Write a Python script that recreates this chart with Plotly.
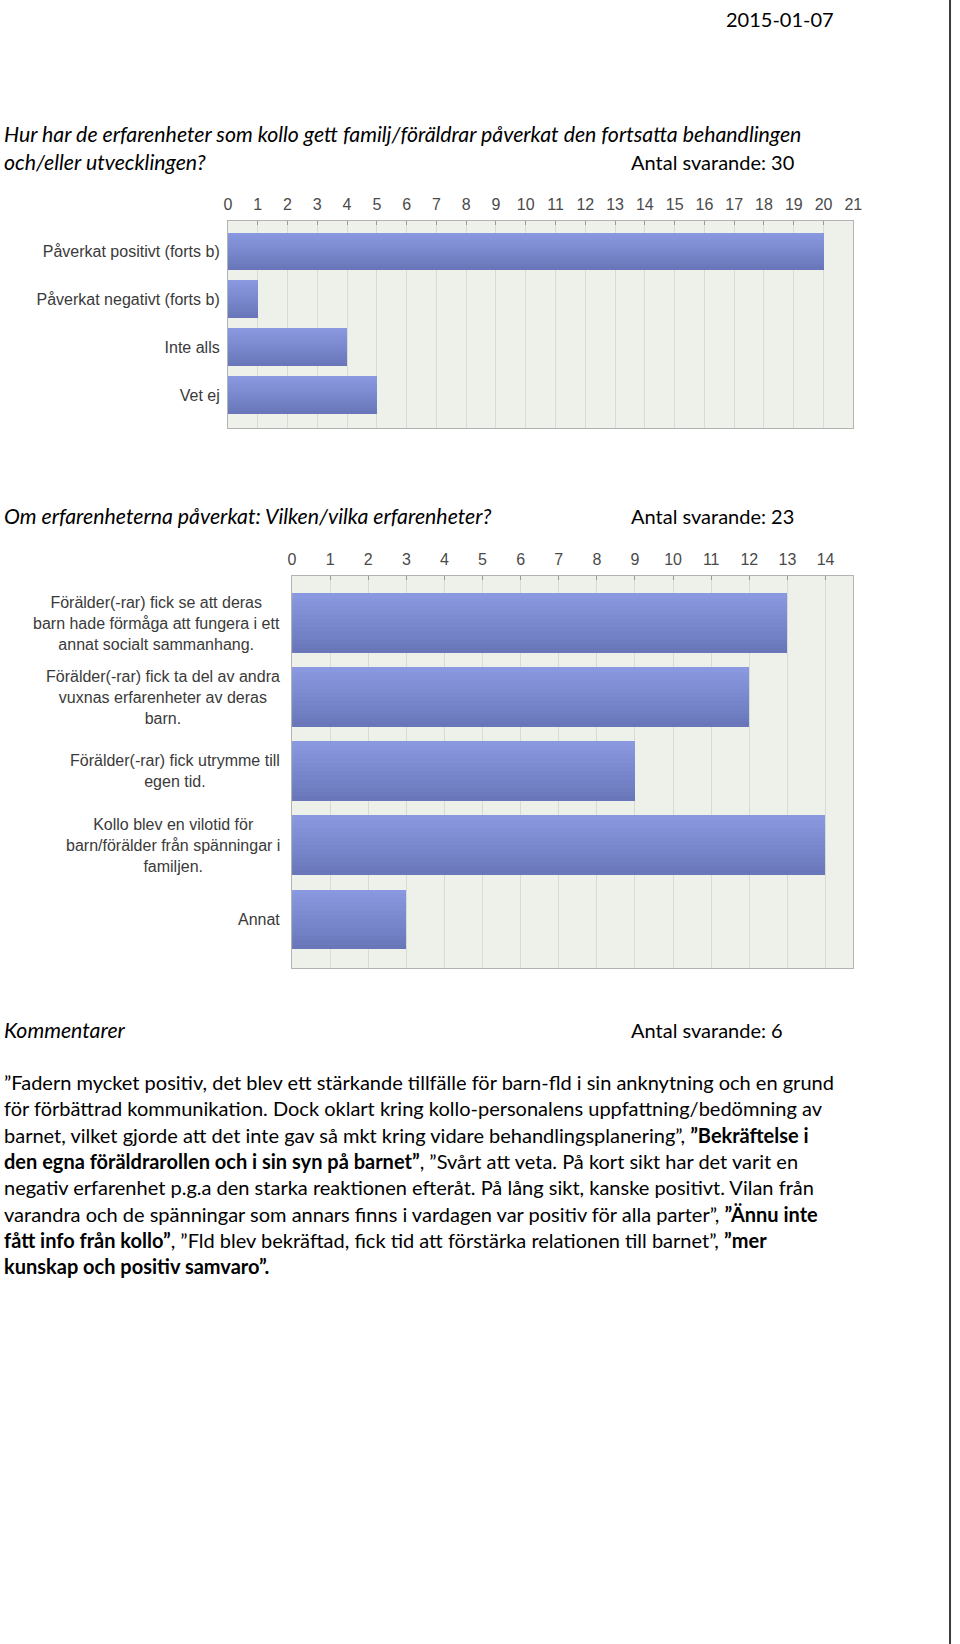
import plotly.graph_objects as go

W, H = 960, 1644

# ---------------- data ----------------
date_text = "2015-01-07"

q1_lines = [
    "Hur har de erfarenheter som kollo gett familj/föräldrar påverkat den fortsatta behandlingen",
    "och/eller utvecklingen?",
]
q1_count = "Antal svarande: 30"
cat1 = [
    "Påverkat positivt (forts b)",
    "Påverkat negativt (forts b)",
    "Inte alls",
    "Vet ej",
]
val1 = [20, 1, 4, 5]
ticks1 = list(range(0, 22))

q2_title = "Om erfarenheterna påverkat: Vilken/vilka erfarenheter?"
q2_count = "Antal svarande: 23"
cat2 = [
    "Förälder(-rar) fick se att deras<br>barn hade förmåga att fungera i ett<br>annat socialt sammanhang.",
    "Förälder(-rar) fick ta del av andra<br>vuxnas erfarenheter av deras<br>barn.",
    "Förälder(-rar) fick utrymme till<br>egen tid.",
    "Kollo blev en vilotid för<br>barn/förälder från spänningar i<br>familjen.",
    "Annat",
]
val2 = [13, 12, 9, 14, 3]
ticks2 = list(range(0, 15))

comments_title = "Kommentarer"
comments_count = "Antal svarande: 6"
comment_lines = [
    "”Fadern mycket positiv, det blev ett stärkande tillfälle för barn-fld i sin anknytning och en grund",
    "för förbättrad kommunikation. Dock oklart kring kollo-personalens uppfattning/bedömning av",
    "barnet, vilket gjorde att det inte gav så mkt kring vidare behandlingsplanering”, <b>”Bekräftelse i</b>",
    "<b>den egna föräldrarollen och i sin syn på barnet”</b>, ”Svårt att veta. På kort sikt har det varit en",
    "negativ erfarenhet p.g.a den starka reaktionen efteråt. På lång sikt, kanske positivt. Vilan från",
    "varandra och de spänningar som annars finns i vardagen var positiv för alla parter”, <b>”Ännu inte</b>",
    "<b>fått info från kollo”</b>, ”Fld blev bekräftad, fick tid att förstärka relationen till barnet”, <b>”mer</b>",
    "<b>kunskap och positiv samvaro”.</b>",
]

# ---------------- styling ----------------
PAGE_FONT = "Lato"
CHART_FONT = "Liberation Sans, Arial"
BAR_TOP = (0x8a, 0x98, 0xe0)
BAR_BOTTOM = (0x69, 0x77, 0xba)
N_STRIPS = 14
PLOT_BG = "#eef1ea"
GRID = "#d8dbd5"
FRAME = "#b3b3b3"
BODY_SIZE = 20
ITALIC_SIZE = 21.3


def px(x):
    return x / W


def py(y):
    return 1 - y / H


def mix(t):
    c = [round(a + (b - a) * t) for a, b in zip(BAR_TOP, BAR_BOTTOM)]
    return "rgb(%d,%d,%d)" % tuple(c)


fig = go.Figure()


def gradient_bars(values, bar_w, xa, ya):
    ys = list(range(len(values)))
    step = bar_w / N_STRIPS
    for k in range(N_STRIPS):
        fig.add_trace(go.Bar(
            x=values, y=ys, orientation="h",
            width=step * 1.08, offset=-bar_w / 2 + k * step,
            marker=dict(color=mix(k / (N_STRIPS - 1)), line=dict(width=0)),
            xaxis=xa, yaxis=ya, hoverinfo="skip", showlegend=False,
        ))


gradient_bars(val1, 0.77, "x", "y")
gradient_bars(val2, 0.8, "x2", "y2")

xcommon = dict(
    side="top", dtick=1, showgrid=True, gridcolor=GRID, gridwidth=1,
    showline=True, linecolor=FRAME, linewidth=1, mirror=True,
    ticks="inside", ticklen=4, tickcolor="#999999",
    tickfont=dict(family=CHART_FONT, size=16, color="#4a4a4a"),
    ticklabelstandoff=4,
    zeroline=False, fixedrange=True, layer="below traces",
)
ycommon = dict(
    showgrid=False, showline=True, linecolor=FRAME, linewidth=1, mirror=True,
    ticks="", zeroline=False, fixedrange=True,
)

layout_annotations = []


def page_text(x, y, text, size=BODY_SIZE, italic=False, anchor="left"):
    layout_annotations.append(dict(
        xref="paper", yref="paper", x=px(x), y=py(y), xanchor=anchor, yanchor="middle",
        text=text, showarrow=False, align="left",
        font=dict(family=PAGE_FONT, size=size, color="#000000",
                  style="italic" if italic else "normal"),
    ))


LEFT = -2
page_text(843, 19, date_text, anchor="right")
page_text(LEFT, 134, q1_lines[0], size=ITALIC_SIZE, italic=True)
page_text(LEFT, 162, q1_lines[1], size=ITALIC_SIZE, italic=True)
page_text(634, 162, q1_count)
page_text(LEFT, 516, q2_title, size=ITALIC_SIZE, italic=True)
page_text(634, 516, q2_count)
page_text(LEFT, 1030, comments_title, size=ITALIC_SIZE, italic=True)
page_text(634, 1030, comments_count)
for i, line in enumerate(comment_lines):
    page_text(LEFT, 1082 + i * 26.3, line)

# chart 2 category labels (centred multi-line text)
for i, lab in enumerate(cat2):
    layout_annotations.append(dict(
        xref="paper", yref="y2", x=px(282), y=i, xanchor="right", yanchor="middle",
        text=lab, showarrow=False, align="center",
        font=dict(family=CHART_FONT, size=16, color="#3a3a3a"),
    ))

fig.update_layout(
    width=W, height=H, margin=dict(l=0, r=0, t=0, b=0),
    paper_bgcolor="white", plot_bgcolor=PLOT_BG,
    barmode="overlay", bargap=0, autosize=False,
    xaxis=dict(**xcommon, domain=[px(227), px(861)], range=[0, 21],
               tickvals=ticks1, anchor="y"),
    yaxis=dict(**ycommon, domain=[py(428), py(221)], range=[3.69, -0.625],
               tickvals=list(range(len(cat1))), ticktext=cat1,
               tickfont=dict(family=CHART_FONT, size=16, color="#3a3a3a"),
               ticklabelstandoff=4, anchor="x"),
    xaxis2=dict(**xcommon, domain=[px(292), px(861)], range=[0, 14.73],
                tickvals=ticks2, anchor="y2"),
    yaxis2=dict(**ycommon, domain=[py(968), py(576)], range=[4.66, -0.635],
                showticklabels=False, anchor="x2"),
    annotations=layout_annotations,
    shapes=[dict(type="line", xref="paper", yref="paper",
                 x0=px(959), x1=px(959), y0=0, y1=1,
                 line=dict(color="#3c3c3c", width=2))],
)

fig.write_html("out.html", config={"responsive": False, "displayModeBar": False})
